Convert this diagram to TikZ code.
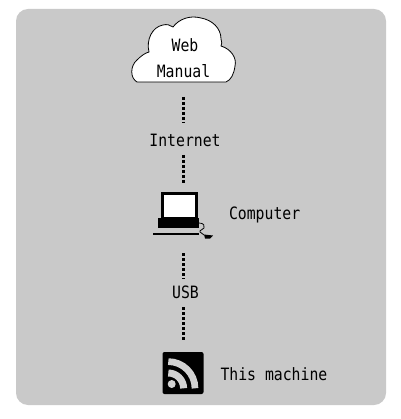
\documentclass[tikz,border=0pt]{standalone}
\usepackage{fontspec}
\setmonofont[FakeStretch=0.87]{DejaVu Sans Mono}
\usetikzlibrary{positioning}

\definecolor{panelgray}{HTML}{C9C9C9}

\begin{document}
\begin{tikzpicture}[
    x=1pt, y=-1pt,
    tag/.style={inner sep=0pt, outer sep=0pt, align=center, font=\ttfamily\fontsize{17}{26}\selectfont},
    icon/.style={inner sep=0pt, outer sep=0pt},
    link/.style={line width=2.2pt, dash pattern=on 3pt off 2pt, black}
]

\useasboundingbox (0,0) rectangle (400,419);
\fill[panelgray, rounded corners=12pt] (16,9) rectangle (386,405);

% cloud outline
\draw[fill=white, line width=0.8pt] (137,82)
    .. controls (130,78) and (130,66) .. (137,60)
    .. controls (141,56) and (145,53) .. (149,52)
    .. controls (146,40) and (152,27) .. (163,25)
    .. controls (167,24) and (170,25) .. (173,27)
    .. controls (179,19) and (190,15) .. (201,18)
    .. controls (212,20) and (221,28) .. (221,39)
    .. controls (222,42) and (222,44) .. (221,46)
    .. controls (231,49) and (237,58) .. (235,66)
    .. controls (234,74) and (231,80) .. (226,82)
    -- cycle;

\node[tag, minimum width=103pt, minimum height=48pt] (manual) at (183.5,58) {\hspace{3pt}Web\\Manual};
\node[tag, minimum height=30pt, below=43pt of manual] (internet) {\hspace{3pt}Internet};
\node[icon, minimum width=61pt, minimum height=48pt, below=36pt of internet] (computer) {};
\node[tag, right=15pt of computer] (computerlabel) {Computer};
\node[tag, minimum height=26pt, below=40pt of computer] (usb) {\hspace{4pt}USB};
\node[icon, minimum size=42pt, below=47pt of usb] (machine) {};
\node[tag, right=16pt of machine, yshift=-1pt] (machinelabel) {This machine};

% connectors
\draw[link, shorten <=15pt, shorten >=2pt] (manual) -- (internet);
\draw[link, shorten >=8pt] (internet) -- (computer);
\draw[link, shorten <=14pt] (computer) -- (usb);
\draw[link, shorten <=2pt, shorten >=12pt] (usb) -- (machine);

% computer
\draw[fill=white, line width=2.6pt] (162.3,193.3) rectangle (196.7,218.5);
\fill[black] (158,218) rectangle (199,228);
\fill[black] (153,233) rectangle (199,235.2);
\draw[line width=0.8pt] (199,223) .. controls (204,223) and (205,226) .. (204,228)
    .. controls (203,230) and (199,230) .. (200,232) -- (204,235);
\fill[black] (204,234.5) -- (213,235.5) -- (210,238.5) -- (205,238.5) -- cycle;

% machine
\fill[black, rounded corners=2pt] (162.5,352) rectangle (203.5,394);
\fill[gray!35] (171.7,384) circle (4pt);
\draw[gray!35, line width=6.7pt] (168.3,361.6)
    .. controls (183,361.6) and (195,373.6) .. (195,388.3);
\draw[gray!35, line width=7pt] (168.3,373)
    .. controls (176.7,373) and (183.6,379.9) .. (183.6,388.3);

\end{tikzpicture}
\end{document}
